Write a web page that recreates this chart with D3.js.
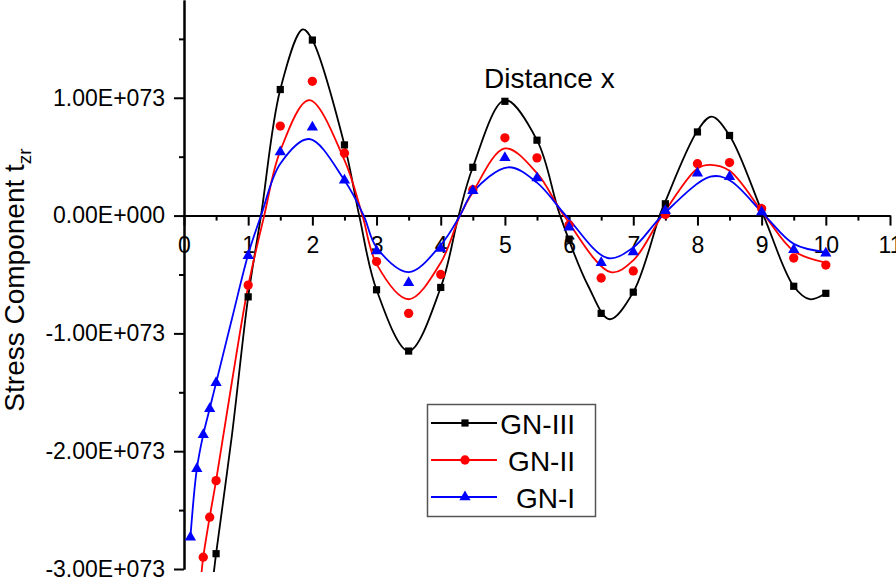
<!DOCTYPE html>
<html>
<head>
<meta charset="utf-8">
<script src="https://cdn.jsdelivr.net/npm/d3@7"></script>
<style>
	body { margin: 0; background: #fff; }
	svg { display: block; font-family: "Liberation Sans", Arial, sans-serif; }
</style>
</head>
<body>
<svg id="chart"></svg>
<script>
// values in units of 1E+073
const seriesNames = ['GN-III', 'GN-II', 'GN-I'];
const seriesColors = ['#000000', '#ff0000', '#0000ff'];

// scatter markers
const gn3PointX = [0.5, 1, 1.5, 2, 2.5, 3, 3.5, 4, 4.5, 5, 5.5, 6, 6.5, 7, 7.5, 8, 8.5, 9, 9.5, 10];
const gn3PointY = [-2.87, -0.69, 1.07, 1.49, 0.60, -0.63, -1.15, -0.61, 0.41, 0.97, 0.64, -0.20, -0.83, -0.65, 0.10, 0.71, 0.68, 0.04, -0.60, -0.66];
const gn2PointX = [0.3, 0.4, 0.5, 1, 1.5, 2, 2.5, 3, 3.5, 4, 4.5, 5, 5.5, 6, 6.5, 7, 7.5, 8, 8.5, 9, 9.5, 10];
const gn2PointY = [-2.90, -2.56, -2.25, -0.59, 0.76, 1.14, 0.53, -0.39, -0.83, -0.50, 0.22, 0.66, 0.49, -0.08, -0.53, -0.47, 0.01, 0.44, 0.45, 0.06, -0.36, -0.42];
const gn1PointX = [0.1, 0.2, 0.3, 0.4, 0.5, 1, 1.5, 2, 2.5, 3, 3.5, 4, 4.5, 5, 5.5, 6, 6.5, 7, 7.5, 8, 8.5, 9, 9.5, 10];
const gn1PointY = [-2.73, -2.15, -1.86, -1.64, -1.42, -0.34, 0.54, 0.75, 0.30, -0.30, -0.57, -0.28, 0.21, 0.49, 0.32, -0.10, -0.40, -0.31, 0.04, 0.36, 0.33, 0.03, -0.29, -0.32];

// smoothed curves
const gn3CurveX = [0.45, 0.5, 0.75, 1, 1.2, 1.5, 1.85, 2, 2.5, 2.73, 3, 3.5, 4, 4.28, 4.5, 5, 5.5, 5.86, 6.3, 6.63, 7, 7.41, 7.5, 8, 8.22, 8.5, 9.03, 9.5, 9.75, 10];
const gn3CurveY = [-3.1, -2.87, -1.85, -0.69, 0, 1.07, 1.58, 1.49, 0.60, 0, -0.63, -1.15, -0.61, 0, 0.41, 0.98, 0.64, 0, -0.60, -0.88, -0.65, 0, 0.12, 0.72, 0.84, 0.68, 0, -0.60, -0.71, -0.66];
const gn2CurveX = [0.27, 0.3, 0.4, 0.5, 0.75, 1, 1.25, 1.5, 1.95, 2.5, 2.78, 3, 3.5, 4, 4.3, 4.5, 5, 5.5, 5.92, 6.65, 7, 7.45, 8, 8.2, 8.5, 9.05, 9.5, 10];
const gn2CurveY = [-3.05, -2.90, -2.56, -2.25, -1.4, -0.6, 0, 0.55, 0.98, 0.47, 0, -0.41, -0.71, -0.40, 0, 0.2, 0.57, 0.36, 0, -0.48, -0.38, 0, 0.40, 0.43, 0.38, 0, -0.30, -0.40];
const gn1CurveX = [0.1, 0.2, 0.3, 0.4, 0.5, 0.75, 1, 1.2, 1.5, 1.95, 2.5, 2.8, 3, 3.5, 4, 4.3, 4.5, 5.05, 5.5, 5.95, 6.6, 7, 7.45, 8.2, 8.5, 9.05, 9.5, 10];
const gn1CurveY = [-2.73, -2.15, -1.86, -1.64, -1.42, -0.87, -0.33, 0, 0.44, 0.65, 0.30, 0, -0.27, -0.48, -0.25, 0, 0.2, 0.41, 0.28, 0, -0.36, -0.27, 0, 0.33, 0.30, 0, -0.24, -0.31];

const xTicks = [0, 1, 2, 3, 4, 5, 6, 7, 8, 9, 10, 11];
const yTicks = [-3, -2, -1, 0, 1];
const yTickLabels = ['-3.00E+073', '-2.00E+073', '-1.00E+073', '0.00E+000', '1.00E+073'];

const width = 896;
const height = 579;
const font = '"Liberation Sans", Arial, sans-serif';

const svg = d3.select('#chart')
	.attr('width', width)
	.attr('height', height);

const x = d3.scaleLinear().domain([0, 11]).range([184, 890]);
const y = d3.scaleLinear().domain([-3, 1.83]).range([569, 0]);

svg.append('defs').append('clipPath')
	.attr('id', 'plot-clip')
	.append('rect')
	.attr('x', x(0))
	.attr('y', 0)
	.attr('width', x(11) - x(0))
	.attr('height', 572);

function styleAxis(g) {
	g.selectAll('path, line').attr('stroke', '#000').attr('stroke-width', 2);
	g.selectAll('text').attr('fill', '#000').attr('font-family', font);
}

// x axis through zero
const xMinor = svg.append('g')
	.attr('transform', `translate(0,${y(0)})`)
	.call(d3.axisBottom(x).tickValues(d3.range(0.5, 11, 1)).tickSize(5).tickSizeOuter(0).tickFormat(''));
styleAxis(xMinor);
const xMajor = svg.append('g')
	.attr('transform', `translate(0,${y(0)})`)
	.call(d3.axisBottom(x).tickValues(xTicks).tickSize(10).tickSizeOuter(0).tickPadding(11).tickFormat(d3.format('d')));
styleAxis(xMajor);
xMajor.selectAll('text').attr('font-size', 23);

// y axis
const yMinor = svg.append('g')
	.attr('transform', `translate(${x(0)},0)`)
	.call(d3.axisLeft(y).tickValues([-2.5, -1.5, -0.5, 0.5, 1.5]).tickSize(5).tickSizeOuter(0).tickFormat(''));
styleAxis(yMinor);
const yMajor = svg.append('g')
	.attr('transform', `translate(${x(0)},0)`)
	.call(d3.axisLeft(y).tickValues(yTicks).tickSize(10).tickSizeOuter(0).tickPadding(9)
		.tickFormat((d, i) => yTickLabels[i]));
styleAxis(yMajor);
yMajor.selectAll('text').attr('font-size', 23);

// axis titles
const yTitle = svg.append('text')
	.attr('transform', 'translate(24,280) rotate(-90)')
	.attr('text-anchor', 'middle')
	.attr('font-family', font)
	.attr('font-size', 28)
	.attr('fill', '#000');
yTitle.append('tspan').text('Stress Component t');
yTitle.append('tspan').attr('font-size', 19).attr('dy', 7).text('zr');

svg.append('text')
	.attr('x', 484)
	.attr('y', 88)
	.attr('font-family', font)
	.attr('font-size', 28)
	.attr('fill', '#000')
	.text('Distance x');

const curves = [
	{ xs: gn3CurveX, ys: gn3CurveY },
	{ xs: gn2CurveX, ys: gn2CurveY },
	{ xs: gn1CurveX, ys: gn1CurveY },
];
const points = [
	{ xs: gn3PointX, ys: gn3PointY },
	{ xs: gn2PointX, ys: gn2PointY },
	{ xs: gn1PointX, ys: gn1PointY },
];
const symbols = [
	d3.symbol(d3.symbolSquare, 52),
	d3.symbol(d3.symbolCircle, 68),
	d3.symbol(d3.symbolTriangle, 55),
];

const line = d3.line()
	.x(d => x(d[0]))
	.y(d => y(d[1]))
	.curve(d3.curveCatmullRom.alpha(0.5));

const plot = svg.append('g').attr('clip-path', 'url(#plot-clip)');

curves.forEach((c, i) => {
	const data = c.xs.map((v, j) => [v, c.ys[j]]);
	plot.append('path')
		.datum(data)
		.attr('fill', 'none')
		.attr('stroke', seriesColors[i])
		.attr('stroke-width', 1.8)
		.attr('d', line);
});

points.forEach((p, i) => {
	const data = p.xs.map((v, j) => [v, p.ys[j]]);
	plot.selectAll(null)
		.data(data)
		.enter()
		.append('path')
		.attr('transform', d => `translate(${x(d[0])},${y(d[1])})`)
		.attr('d', symbols[i])
		.attr('fill', seriesColors[i]);
});

// legend
const legend = svg.append('g');
legend.append('rect')
	.attr('x', 427.5)
	.attr('y', 404.5)
	.attr('width', 168)
	.attr('height', 112)
	.attr('fill', '#fff')
	.attr('stroke', '#555')
	.attr('stroke-width', 1.5);

seriesNames.forEach((name, i) => {
	const rowY = 423 + i * 37;
	legend.append('line')
		.attr('x1', 431)
		.attr('x2', 497)
		.attr('y1', rowY)
		.attr('y2', rowY)
		.attr('stroke', seriesColors[i])
		.attr('stroke-width', 1.8);
	legend.append('path')
		.attr('transform', `translate(465,${rowY})`)
		.attr('d', symbols[i])
		.attr('fill', seriesColors[i]);
	legend.append('text')
		.attr('x', 575)
		.attr('y', rowY + 11)
		.attr('text-anchor', 'end')
		.attr('font-family', font)
		.attr('font-size', 28)
		.attr('fill', '#000')
		.text(name);
});
</script>
</body>
</html>
